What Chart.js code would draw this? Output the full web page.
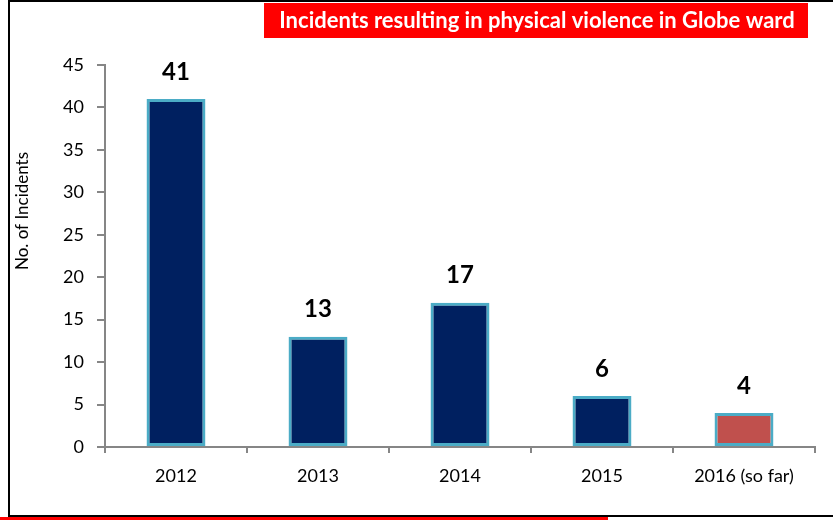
<!DOCTYPE html>
<html>
<head>
<meta charset="utf-8">
<script src="https://cdn.jsdelivr.net/npm/chart.js@4/dist/chart.umd.min.js"></script>
<style>
  html, body { margin: 0; padding: 0; background: #fff; }
  #wrap { position: relative; width: 833px; height: 520px; }
</style>
</head>
<body>
<div id="wrap"><canvas id="incidents"></canvas></div>
<script>
const years = ['2012', '2013', '2014', '2015', '2016 (so far)'];
const incidents = [41, 13, 17, 6, 4];
const barColours = ['#002060', '#002060', '#002060', '#002060', '#C0504D'];
const yTicks = [0, 5, 10, 15, 20, 25, 30, 35, 40, 45];
const chartTitle = 'Incidents resulting in physical violence in Globe ward';
const yTitle = 'No. of Incidents';

// frame around the chart, red banner with the title, red strip at the bottom
const frameAndBanner = {
    id: 'frameAndBanner',
    beforeDraw(chart) {
        const ctx = chart.ctx;
        ctx.save();
        ctx.fillStyle = '#fff';
        ctx.fillRect(0, 0, chart.width, chart.height);
        ctx.strokeStyle = '#000';
        ctx.lineWidth = 2;
        ctx.beginPath();
        ctx.moveTo(9, 520);
        ctx.lineTo(9, 1);
        ctx.lineTo(833, 1);
        ctx.moveTo(9, 516);
        ctx.lineTo(833, 516);
        ctx.stroke();
        ctx.fillStyle = '#FF0000';
        ctx.fillRect(0, 517, 608, 3);
        ctx.fillRect(264, 3, 544, 35);
        ctx.fillStyle = '#fff';
        ctx.font = 'bold 22px Lato';
        ctx.textAlign = 'center';
        ctx.textBaseline = 'middle';
        ctx.fillText(chartTitle, 537, 21);

        // y axis title, sitting a little above the middle of the axis
        ctx.fillStyle = '#000';
        ctx.font = '17px Lato';
        ctx.translate(23, 211);
        ctx.rotate(-Math.PI / 2);
        ctx.fillText(yTitle, 0, 0);
        ctx.restore();
    }
};

// value above each bar
const valueLabels = {
    id: 'valueLabels',
    afterDatasetsDraw(chart) {
        const ctx = chart.ctx;
        const meta = chart.getDatasetMeta(0);
        ctx.save();
        ctx.fillStyle = '#000';
        ctx.font = 'bold 24px Lato';
        ctx.textAlign = 'center';
        ctx.textBaseline = 'middle';
        meta.data.forEach((bar, i) => {
            ctx.fillText(String(incidents[i]), bar.x, bar.y - 27);
        });
        ctx.restore();
    }
};

new Chart(document.getElementById('incidents'), {
    type: 'bar',
    data: {
        labels: years,
        datasets: [{
            data: incidents,
            backgroundColor: barColours,
            borderColor: '#4BACC6',
            borderWidth: 3,
            borderSkipped: false,
            categoryPercentage: 1,
            barPercentage: 0.415
        }]
    },
    options: {
        responsive: true,
        maintainAspectRatio: false,
        animation: false,
        layout: { padding: { left: 9, right: 18, top: 65, bottom: 13 } },
        plugins: {
            legend: { display: false },
            tooltip: { enabled: false }
        },
        scales: {
            x: {
                grid: { drawOnChartArea: false, tickLength: 6, color: '#868686', lineWidth: 2 },
                border: { color: '#868686', width: 2 },
                ticks: { color: '#000', font: { family: 'Lato', size: 18 }, padding: 12 },
                afterFit(scale) { scale.height = 60; }
            },
            y: {
                min: 0,
                max: 45,
                afterBuildTicks(scale) { scale.ticks = yTicks.map(v => ({ value: v })); },
                grid: { drawOnChartArea: false, tickLength: 8, color: '#868686', lineWidth: 2 },
                border: { color: '#868686', width: 2 },
                ticks: { color: '#000', font: { family: 'Lato', size: 18 }, padding: 13 },
                afterFit(scale) { scale.width = 96; }
            }
        }
    },
    plugins: [frameAndBanner, valueLabels]
});
</script>
</body>
</html>
